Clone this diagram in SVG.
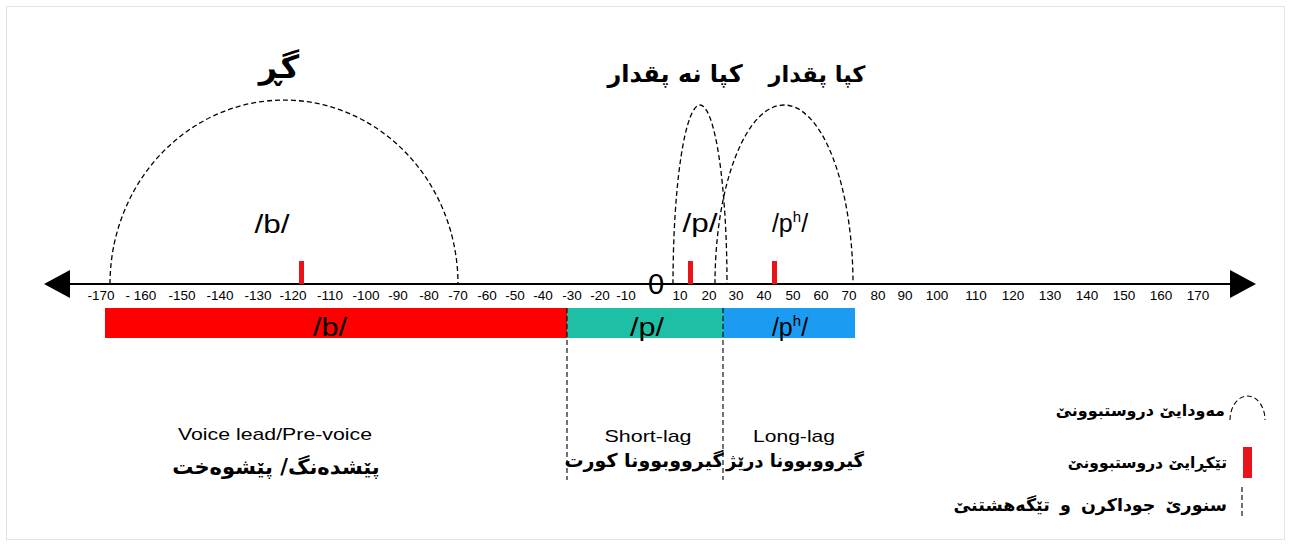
<svg xmlns="http://www.w3.org/2000/svg" width="1293" height="546" viewBox="0 0 1293 546">
<defs>
<style>
.ax{stroke:#000;stroke-width:2;fill:none}
.dash{stroke:#000;stroke-width:1.3;fill:none;stroke-dasharray:5,3}
.vdash{stroke:#000;stroke-width:1.1;fill:none;stroke-dasharray:5,3}
.tk{font-family:"Liberation Sans",Arial,sans-serif;font-size:13.5px;fill:#000;text-anchor:middle}
.ph{font-family:"Liberation Sans",Arial,sans-serif;font-size:25px;fill:#000;text-anchor:middle}
.en{font-family:"Liberation Sans",Arial,sans-serif;font-size:17px;fill:#000;text-anchor:middle}
.ar{font-family:"DejaVu Sans",sans-serif;font-weight:bold;fill:#000;text-anchor:middle}
.arl{font-family:"DejaVu Sans",sans-serif;font-weight:bold;fill:#000;text-anchor:end}
.mk{fill:#e8141a}
</style>
</defs>
<rect x="0" y="0" width="1293" height="546" fill="#fff"/>
<rect x="6.5" y="6.5" width="1278" height="533" fill="none" stroke="#e2e2e2" stroke-width="1"/>

<g id="axis">
<line class="ax" x1="66" y1="284" x2="1234" y2="284"/>
<polygon points="44,284 70,270 70,298" fill="#000"/>
<polygon points="1256,284 1230,270 1230,298" fill="#000"/>
<text x="656" y="294" font-family="Liberation Sans,Arial,sans-serif" font-size="29" text-anchor="middle">0</text>
</g>

<g id="ticks">
<text class="tk" x="101" y="300">-170</text>
<text class="tk" x="141" y="300">- 160</text>
<text class="tk" x="182" y="300">-150</text>
<text class="tk" x="220" y="300">-140</text>
<text class="tk" x="258" y="300">-130</text>
<text class="tk" x="293" y="300">-120</text>
<text class="tk" x="330" y="300">-110</text>
<text class="tk" x="366" y="300">-100</text>
<text class="tk" x="398" y="300">-90</text>
<text class="tk" x="429" y="300">-80</text>
<text class="tk" x="458" y="300">-70</text>
<text class="tk" x="487" y="300">-60</text>
<text class="tk" x="515" y="300">-50</text>
<text class="tk" x="543" y="300">-40</text>
<text class="tk" x="572" y="300">-30</text>
<text class="tk" x="600" y="300">-20</text>
<text class="tk" x="626" y="300">-10</text>
<text class="tk" x="680" y="300">10</text>
<text class="tk" x="709" y="300">20</text>
<text class="tk" x="736" y="300">30</text>
<text class="tk" x="764" y="300">40</text>
<text class="tk" x="793" y="300">50</text>
<text class="tk" x="821" y="300">60</text>
<text class="tk" x="849" y="300">70</text>
<text class="tk" x="878" y="300">80</text>
<text class="tk" x="905" y="300">90</text>
<text class="tk" x="937" y="300">100</text>
<text class="tk" x="976" y="300">110</text>
<text class="tk" x="1013" y="300">120</text>
<text class="tk" x="1050" y="300">130</text>
<text class="tk" x="1087" y="300">140</text>
<text class="tk" x="1124" y="300">150</text>
<text class="tk" x="1161" y="300">160</text>
<text class="tk" x="1198" y="300">170</text>
</g>

<g id="bar-b">
<rect x="105" y="308" width="462" height="30" fill="#ff0000"/>
<text class="ph" x="330" y="336" textLength="34" lengthAdjust="spacingAndGlyphs">/b/</text>
</g>
<g id="bar-p">
<rect x="567" y="308" width="156" height="30" fill="#1fbfa6"/>
<text class="ph" x="647" y="336" textLength="34" lengthAdjust="spacingAndGlyphs">/p/</text>
</g>
<g id="bar-ph">
<rect x="723" y="308" width="132" height="30" fill="#1b9cf2"/>
<text class="ph" x="790" y="336">/p<tspan font-size="15" dy="-10">h</tspan><tspan dy="10">/</tspan></text>
</g>

<g id="connectors">
<path class="dash" d="M110,284 A174,184 0 0 1 458,284"/>
<path class="dash" d="M673,284 A27,179 0 0 1 727,284"/>
<path class="dash" d="M715,284 A69,179 0 0 1 853,284"/>
<line class="vdash" x1="567" y1="308" x2="567" y2="480"/>
<line class="vdash" x1="723" y1="308" x2="723" y2="480"/>
</g>

<g id="group-b">
<text class="ar" x="279" y="78" style="font-size:32px">گڕ</text>
<text class="ph" x="272" y="233" textLength="35" lengthAdjust="spacingAndGlyphs">/b/</text>
<rect class="mk" x="299" y="261" width="5" height="23"/>
</g>
<g id="group-p">
<text class="ar" x="675" y="82" style="font-size:24px" direction="rtl">کپا نه پقدار</text>
<text class="ph" x="700" y="232" textLength="35" lengthAdjust="spacingAndGlyphs">/p/</text>
<rect class="mk" x="688" y="261" width="5" height="23"/>
</g>
<g id="group-ph">
<text class="ar" x="817" y="82" style="font-size:22.5px" direction="rtl">کپا پقدار</text>
<text class="ph" x="790" y="232">/p<tspan font-size="15" dy="-10">h</tspan><tspan dy="10">/</tspan></text>
<rect class="mk" x="772" y="261" width="5" height="23"/>
</g>

<g id="label-voice-lead">
<text class="en" x="275" y="440" textLength="194" lengthAdjust="spacingAndGlyphs">Voice lead/Pre-voice</text>
<text class="ar" x="276" y="474" style="font-size:21px" direction="rtl">پێشدەنگ/ پێشوەخت</text>
</g>
<g id="label-short-lag">
<text class="en" x="648" y="442" textLength="87" lengthAdjust="spacingAndGlyphs">Short-lag</text>
<text class="ar" x="644" y="467" style="font-size:19px" direction="rtl">گیرووبوونا کورت</text>
</g>
<g id="label-long-lag">
<text class="en" x="794" y="442" textLength="82" lengthAdjust="spacingAndGlyphs">Long-lag</text>
<text class="ar" x="795" y="467" style="font-size:18px" direction="rtl">گیرووبوونا درێژ</text>
</g>

<g id="legend">
<path class="vdash" d="M1230,420 A17.5,24 0 0 1 1265,420"/>
<text class="arl" x="1225" y="416" style="font-size:16px">مەودایێ دروستبوونێ</text>
<rect class="mk" x="1243" y="447" width="9" height="31"/>
<text class="arl" x="1227" y="468" style="font-size:15.5px">تێکڕایێ دروستبوونێ</text>
<line class="vdash" x1="1242" y1="487" x2="1242" y2="519"/>
<text class="arl" x="1227" y="511" style="font-size:17.5px;word-spacing:4px">سنورێ جوداکرن و تێگەهشتنێ</text>
</g>
</svg>
